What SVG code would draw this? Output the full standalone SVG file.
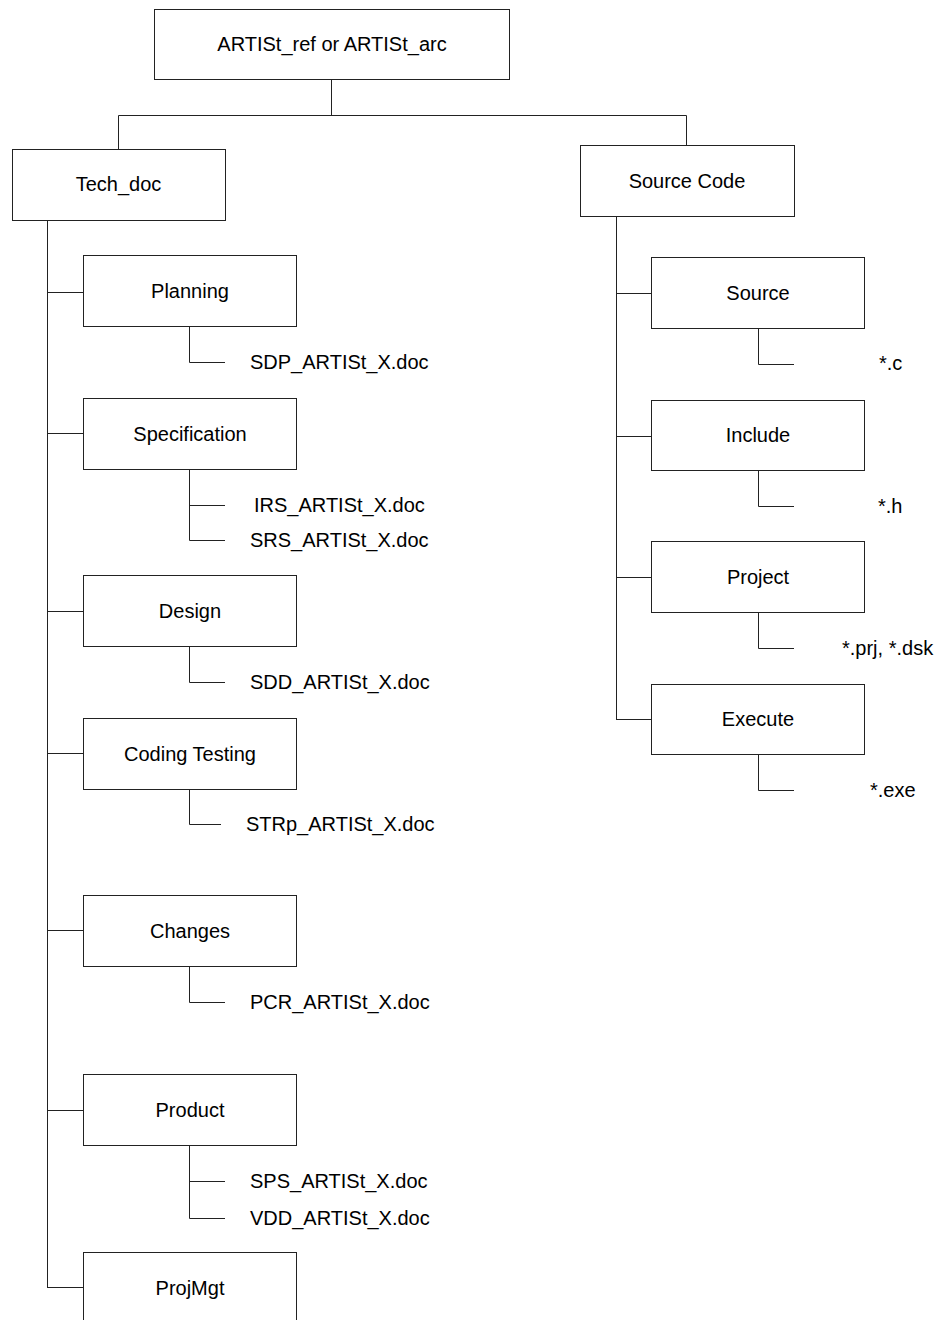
<svg xmlns="http://www.w3.org/2000/svg" width="946" height="1320" viewBox="0 0 946 1320">
<style>
.box{fill:#fff;stroke:#222;stroke-width:1}
.t{font-family:"Liberation Sans",Arial,sans-serif;font-size:20px;fill:#000}
.c{text-anchor:middle}
.ln{fill:none;stroke:#222;stroke-width:1}
</style>
<rect width="946" height="1320" fill="#fff"/>
<g id="connectors" class="ln">
<path d="M331.5,80V115.5M118.5,149V115.5H686.5V145"/>
<path d="M47.5,220V1287.5"/>
<path d="M47,292.5H83M47,433.5H83M47,611.5H83M47,753.5H83M47,930.5H83M47,1110.5H83M47,1287.5H83"/>
<path d="M189.5,327V362.5H225"/>
<path d="M189.5,469V540.5H225M189.5,505.5H225"/>
<path d="M189.5,647V682.5H225"/>
<path d="M189.5,789V824.5H221"/>
<path d="M189.5,966V1002.5H225"/>
<path d="M189.5,1145V1218.5H225M189.5,1181.5H225"/>
<path d="M616.5,217V719.5"/>
<path d="M616,293.5H651M616,436.5H651M616,577.5H651M616,719.5H651"/>
<path d="M758.5,328V364.5H794"/>
<path d="M758.5,470V506.5H794"/>
<path d="M758.5,612V648.5H794"/>
<path d="M758.5,755V790.5H794"/>
</g>
<g id="root"><rect class="box" x="154.5" y="9.5" width="355" height="70"/><text class="t c" x="332" y="51">ARTISt_ref or ARTISt_arc</text></g>
<g id="tech_doc"><rect class="box" x="12.5" y="149.5" width="213" height="71"/><text class="t c" x="118.5" y="191">Tech_doc</text></g>
<g id="source_code"><rect class="box" x="580.5" y="145.5" width="214" height="71"/><text class="t c" x="687" y="188">Source Code</text></g>
<g id="planning"><rect class="box" x="83.5" y="255.5" width="213" height="71"/><text class="t c" x="190" y="298">Planning</text></g>
<g id="sdp"><text class="t" x="250" y="369">SDP_ARTISt_X.doc</text></g>
<g id="specification"><rect class="box" x="83.5" y="398.5" width="213" height="71"/><text class="t c" x="190" y="441">Specification</text></g>
<g id="irs"><text class="t" x="254" y="512">IRS_ARTISt_X.doc</text></g>
<g id="srs"><text class="t" x="250" y="547">SRS_ARTISt_X.doc</text></g>
<g id="design"><rect class="box" x="83.5" y="575.5" width="213" height="71"/><text class="t c" x="190" y="618">Design</text></g>
<g id="sdd"><text class="t" x="250" y="689">SDD_ARTISt_X.doc</text></g>
<g id="coding_testing"><rect class="box" x="83.5" y="718.5" width="213" height="71"/><text class="t c" x="190" y="761">Coding Testing</text></g>
<g id="strp"><text class="t" x="246" y="831">STRp_ARTISt_X.doc</text></g>
<g id="changes"><rect class="box" x="83.5" y="895.5" width="213" height="71"/><text class="t c" x="190" y="938">Changes</text></g>
<g id="pcr"><text class="t" x="250" y="1009">PCR_ARTISt_X.doc</text></g>
<g id="product"><rect class="box" x="83.5" y="1074.5" width="213" height="71"/><text class="t c" x="190" y="1117">Product</text></g>
<g id="sps"><text class="t" x="250" y="1188">SPS_ARTISt_X.doc</text></g>
<g id="vdd"><text class="t" x="250" y="1225">VDD_ARTISt_X.doc</text></g>
<g id="projmgt"><rect class="box" x="83.5" y="1252.5" width="213" height="71"/><text class="t c" x="190" y="1295">ProjMgt</text></g>
<g id="source"><rect class="box" x="651.5" y="257.5" width="213" height="71"/><text class="t c" x="758" y="300">Source</text></g>
<g id="c_files"><text class="t" x="879" y="370">*.c</text></g>
<g id="include"><rect class="box" x="651.5" y="400.5" width="213" height="70"/><text class="t c" x="758" y="442">Include</text></g>
<g id="h_files"><text class="t" x="878" y="513">*.h</text></g>
<g id="project"><rect class="box" x="651.5" y="541.5" width="213" height="71"/><text class="t c" x="758" y="584">Project</text></g>
<g id="prj_files"><text class="t" x="842" y="655">*.prj, *.dsk</text></g>
<g id="execute"><rect class="box" x="651.5" y="684.5" width="213" height="70"/><text class="t c" x="758" y="726">Execute</text></g>
<g id="exe_files"><text class="t" x="870" y="797">*.exe</text></g>
</svg>
